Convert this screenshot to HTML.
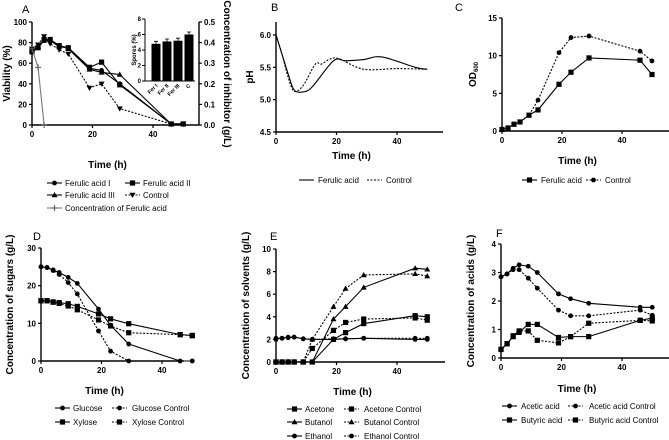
<!DOCTYPE html>
<html><head><meta charset="utf-8"><style>
body{margin:0;background:#fff}
svg{display:block;font-family:"Liberation Sans",Arial,sans-serif}
.t{font-size:8px;font-weight:bold}
.at{font-size:10px;font-weight:bold}
.lg{font-size:8px}
.pl{font-size:11px}
</style></head><body>
<svg id="s" width="669" height="440" viewBox="0 0 669 440"></svg>
<script>
const T=[0,2,4,6,9,12,19,23,29,46,50];
// Panel A
const aFerI=[72,75,82,82,76,75,55,53,40,1,1];
const aFerII=[71,75,83,83,77,75,56,61,39,1,1];
const aFerIII=[73,76,82,83,77,74,54,51,49,1,1];
const aCtrl=[74,78,86,79,73,69,36,40,16,1,1];
const aConcT=[0,2,4];
const aConc=[0.37,0.28,0];
const sporeCats=["Fer I","Fer II","Fer III","C"];
const sporeVals=[4.8,5.1,5.2,6.0];
// Panel B
const bFerT=[0,2,4,6,9,12,19,23,29,35,46,50];
const bFer=[6.0,5.7,5.4,5.15,5.12,5.2,5.6,5.6,5.62,5.66,5.5,5.47];
const bCtrlT=[0,2,4,6,9,13,15,18,21,29,40,50];
const bCtrl=[6.0,5.7,5.35,5.13,5.22,5.55,5.55,5.63,5.63,5.47,5.48,5.47];
// Panel C
const cFer=[0.2,0.4,0.9,1.2,2.1,2.8,6.2,7.8,9.7,9.4,7.5];
const cCtrl=[0.2,0.4,0.9,1.2,2.1,4.1,10.4,12.4,12.6,10.6,9.3];
// Panel D
const dGlu=[25,24.8,24.2,23.5,22.2,20.6,13.8,9.5,4.5,0,0];
const dGluCT=[0,2,4,6,9,12,19,23,29];
const dGluC=[25,24.8,24,23,20.8,17.8,8,2.6,0];
const dXyl=[16,16,15.7,15.5,15.2,14.5,12.5,11.2,9.9,7,6.8];
const dXylC=[16,16,15.6,15.3,14.6,13.6,10.9,9.3,7.5,7,6.7];
// Panel E
const eAce=[0,0,0,0,0,0,2,2.6,3.4,4.1,4.0];
const eAceC=[0,0,0,0,0,1.2,2.8,3.5,3.8,3.9,3.7];
const eBut=[0,0,0,0,0,0,3.8,4.9,6.6,8.3,8.2];
const eButC=[0,0,0,0,0,2,4.9,6.5,7.7,7.8,7.6];
const eEth=[2.1,2.1,2.2,2.2,2.05,2,2,2.05,2.1,2.0,2.0];
const eEthC=[2.0,2.1,2.15,2.2,2.05,2.0,2.05,2.05,2.1,2.1,2.1];
// Panel F
const fAce=[2.85,2.95,3.15,3.27,3.22,3.0,2.25,2.08,1.92,1.78,1.78];
const fAceC=[2.85,2.95,3.1,3.1,2.8,2.45,1.68,1.48,1.48,1.68,1.5];
const fBut=[0.3,0.5,0.75,0.9,1.18,1.18,0.72,0.75,0.75,1.32,1.4];
const fButC=[0.3,0.5,0.78,0.95,0.95,0.62,0.53,0.75,1.22,1.32,1.3];

const S=document.getElementById('s');const NS='http://www.w3.org/2000/svg';
function el(tag,at,par){const e=document.createElementNS(NS,tag);for(const k in at)e.setAttribute(k,at[k]);(par||S).appendChild(e);return e;}
function txt(x,y,s,cls,anchor,rot,name){const e=el('text',{x:x,y:y,class:cls,'text-anchor':anchor||'middle'});if(rot)e.setAttribute('transform','rotate('+rot+' '+x+' '+y+')');e.textContent=s;

return e;}
function marker(g,type,x,y,fill){let m;
if(type==='c')m=el('circle',{cx:x,cy:y,r:2.4,fill:fill||'#000'},g);
else if(type==='s')m=el('rect',{x:x-2.6,y:y-2.6,width:5.2,height:5.2,fill:'#000'},g);
else if(type==='t')m=el('path',{d:`M${x},${y-3}L${x+3},${y+2.2}L${x-3},${y+2.2}Z`,fill:'#000'},g);
else if(type==='v')m=el('path',{d:`M${x},${y+3}L${x+3},${y-2.2}L${x-3},${y-2.2}Z`,fill:'#000'},g);
else if(type==='p')m=el('path',{d:`M${x-3},${y}H${x+3}M${x},${y-3}V${y+3}`,stroke:'#555','stroke-width':1},g);
if(m){}}
function smooth(pts){let d=`M${pts[0][0]},${pts[0][1]}`;for(let i=0;i<pts.length-1;i++){const p0=pts[i-1]||pts[i],p1=pts[i],p2=pts[i+1],p3=pts[i+2]||p2;
d+=`C${p1[0]+(p2[0]-p0[0])/6},${p1[1]+(p2[1]-p0[1])/6} ${p2[0]-(p3[0]-p1[0])/6},${p2[1]-(p3[1]-p1[1])/6} ${p2[0]},${p2[1]}`;}return d;}
function panel(o){
  const g=el('g',{});
  const sx=v=>o.x0+(v-0)*(o.x40-o.x0)/40;
  const sy=v=>o.yb+(v-o.ymin)*(o.yt-o.yb)/(o.ymax-o.ymin);
  const ax=el('path',{d:`M${o.x0},${o.yt}V${o.yb}H${o.xe}`,stroke:'#000','stroke-width':1.4,fill:'none'},g);
  
  [0,20,40].forEach(v=>{el('line',{x1:sx(v),x2:sx(v),y1:o.yb,y2:o.yb+3,stroke:'#000','stroke-width':1.2},g);txt(sx(v),o.yb+12,String(v),'t','middle',0,'x-tick-label');});
  o.yticks.forEach(v=>{el('line',{x1:o.x0-3,x2:o.x0,y1:sy(v),y2:sy(v),stroke:'#000','stroke-width':1.2},g);txt(o.x0-5,sy(v)+3,o.fmt?o.fmt(v):String(v),'t','end',0,'y-tick-label');});
  txt((o.x0+o.xe)/2-8,o.yb+o.tOff,'Time (h)','at','middle',0,'x-axis-title');
  const yt=txt(o.ytx,(o.yt+o.yb)/2,o.ytitle,'at','middle',-90,'y-axis-title');
  if(o.sub){const ts=el('tspan',{'font-size':'6px',dy:'2'},yt);ts.textContent=o.sub;}
  txt(o.lx,o.ly,o.letter,'pl','start',0,'panel-letter');
  o.series.forEach(s=>{const xs=s.t||T;const pts=s.v.map((v,i)=>[sx(xs[i]),sy(v)]);
    const d=s.smooth?smooth(pts):'M'+pts.map(p=>p.join(',')).join('L');
    const p=el('path',{d:d,fill:'none',stroke:s.col||'#000','stroke-width':s.w||1.1,'stroke-dasharray':s.dash?'2,1.5':'none'},g);
    
    if(s.m)pts.forEach(pt=>marker(g,s.m,pt[0],pt[1]));});
  return {g,sx,sy};
}
function legend(x,y,m,dash,label,tx,col){const g=el('g',{});
 el('line',{x1:x,x2:x+15,y1:y,y2:y,stroke:col||'#000','stroke-width':1.1,'stroke-dasharray':dash?'2,1.5':'none'},g);
 if(m)marker(g,m,x+7.5,y);txt(tx,y+3,label,'lg','start',0,'legend-label');}

// A
const A=panel({name:'panel-a',x0:32,x40:153,xe:199,yt:22,yb:125,ymin:0,ymax:100,yticks:[0,20,40,60,80,100],ytx:10,ytitle:'Viability (%)',lx:22,ly:13,letter:'A',tOff:43,
 series:[{v:aFerI,m:'c'},{v:aFerII,m:'s'},{v:aFerIII,m:'t'},{v:aCtrl,m:'v',dash:1}]});
const pa=el('path',{d:'M'+aConc.map((v,i)=>[A.sx(aConcT[i]),125-v*(103/0.5)].join(',')).join('L'),stroke:'#777','stroke-width':1.1,fill:'none'});

aConc.forEach((v,i)=>marker(S,'p',A.sx(aConcT[i]),125-v*(103/0.5)));
el('path',{d:'M199,22V125',stroke:'#000','stroke-width':1.4});
[0,0.1,0.2,0.3,0.4,0.5].forEach(v=>{const y=125-v*206;el('line',{x1:199,x2:202,y1:y,y2:y,stroke:'#000','stroke-width':1.2});txt(204,y+3,v.toFixed(1),'t','start',0,'right-tick-label');});
txt(224,74,'Concentration of inhibitor (g/L)','at','middle',90,'right-axis-title');
// inset
el('path',{d:'M145,19V81H195',stroke:'#000','stroke-width':1,fill:'none'});
[0,2,4,6,8].forEach(v=>{const y=81-v*62/8;el('line',{x1:142,x2:145,y1:y,y2:y,stroke:'#000'});txt(141,y+2,String(v),'t','end',0,'inset-tick').style.fontSize='6px';});
txt(136,50,'Spores (%)','t','middle',-90,'inset-y-title').style.fontSize='6px';
sporeVals.forEach((v,i)=>{const cx=156+i*11;const h=v*62/8;const b=el('rect',{x:cx-4.5,y:81-h,width:9,height:h,fill:'#000'});

el('path',{d:`M${cx},${81-h}v-2.5m-2,0h4`,stroke:'#000','stroke-width':0.8});
const t=txt(cx+2,86,sporeCats[i],'t','end',-45,'inset-x-label');t.style.fontSize='5.5px';});
legend(47,183,'c',0,'Ferulic acid I',65);legend(125,183,'s',0,'Ferulic acid II',143);
legend(47,195,'t',0,'Ferulic acid III',65);legend(125,195,'v',1,'Control',143);
legend(47,208,'p',0,'Concentration of Ferulic acid',65,'#777');

// B
panel({name:'panel-b',x0:276,x40:397,xe:443,yt:22,yb:132,ymin:4.5,ymax:6.2,yticks:[4.5,5.0,5.5,6.0],fmt:v=>v.toFixed(1),ytx:253,ytitle:'pH',lx:271,ly:11,letter:'B',tOff:27,
 series:[{t:bFerT,v:bFer,smooth:1},{t:bCtrlT,v:bCtrl,smooth:1,dash:1}]});
legend(299,180,null,0,'Ferulic acid',318);legend(367,180,null,1,'Control',386);
// C
panel({name:'panel-c',x0:502,x40:622,xe:669,yt:18,yb:131,ymin:0,ymax:15,yticks:[0,5,10,15],ytx:476,ytitle:'OD',sub:'600',lx:455,ly:11,letter:'C',tOff:33,
 series:[{v:cFer,m:'s'},{v:cCtrl,m:'c',dash:1}]});
legend(522,180,'s',0,'Ferulic acid',541);legend(586,180,'c',1,'Control',605);
// D
panel({name:'panel-d',x0:41,x40:162,xe:184,yt:248,yb:361,ymin:0,ymax:30,yticks:[0,10,20,30],ytx:13,ytitle:'Concentration of sugars (g/L)',lx:33,ly:240,letter:'D',tOff:33,
 series:[{v:dGlu,m:'c'},{t:dGluCT,v:dGluC,m:'c',dash:1},{v:dXyl,m:'s'},{v:dXylC,m:'s',dash:1}]});
legend(55,408,'c',0,'Glucose',73);legend(112,408,'c',1,'Glucose Control',132);
legend(55,422,'s',0,'Xylose',73);legend(112,422,'s',1,'Xylose Control',132);
// E
panel({name:'panel-e',x0:276,x40:397,xe:445,yt:249,yb:362,ymin:0,ymax:10,yticks:[0,2,4,6,8,10],ytx:249,ytitle:'Concentration of solvents (g/L)',lx:270,ly:240,letter:'E',tOff:33,
 series:[{v:eAce,m:'s'},{v:eAceC,m:'s',dash:1},{v:eBut,m:'t'},{v:eButC,m:'t',dash:1},{v:eEth,m:'c'},{v:eEthC,m:'c',dash:1}]});
legend(287,409,'s',0,'Acetone',305);legend(344,409,'s',1,'Acetone Control',364);
legend(287,422,'t',0,'Butanol',305);legend(344,422,'t',1,'Butanol Control',364);
legend(287,436,'c',0,'Ethanol',305);legend(344,436,'c',1,'Ethanol Control',364);
// F
panel({name:'panel-f',x0:501,x40:622,xe:669,yt:244,yb:358,ymin:0,ymax:4,yticks:[0,1,2,3,4],ytx:474,ytitle:'Concentration of acids (g/L)',lx:496,ly:237,letter:'F',tOff:34,
 series:[{v:fAce,m:'c'},{v:fAceC,m:'c',dash:1},{v:fBut,m:'s'},{v:fButC,m:'s',dash:1}]});
legend(502,406,'c',0,'Acetic acid',521);legend(568,406,'c',1,'Acetic acid Control',589);
legend(502,420,'s',0,'Butyric acid',521);legend(568,420,'s',1,'Butyric acid Control',589);
</script>
</body></html>
